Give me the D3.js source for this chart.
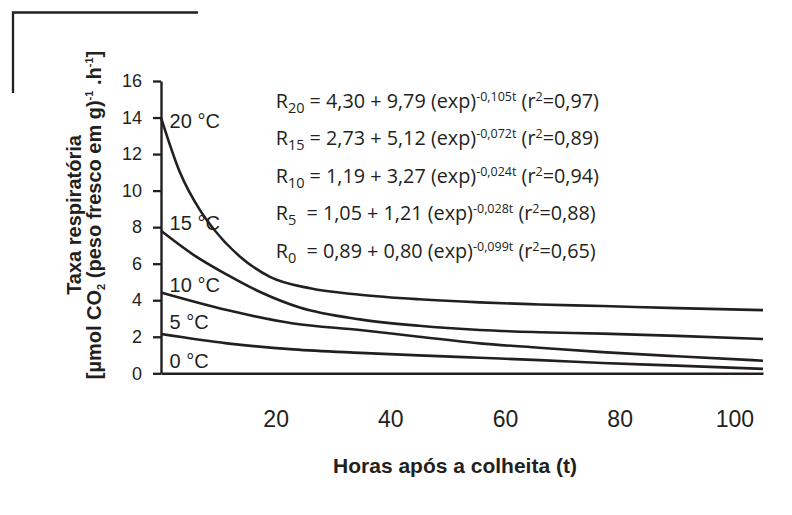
<!DOCTYPE html>
<html>
<head>
<meta charset="utf-8">
<script src="https://cdn.jsdelivr.net/npm/d3@7"></script>
<style>
  body { margin: 0; background: #fff; }
  text { fill: #231f20; }
</style>
</head>
<body>
<div id="chart"></div>
<script>
// Values (hours after harvest -> respiration rate)
var hoursA = [0, 3.3, 6.8, 9.1, 13.8, 19, 26, 34.7, 45, 55.6, 66, 77, 90, 105];
var rate20 = [14.0, 11.0, 8.93, 7.93, 6.38, 5.28, 4.65, 4.3, 4.05, 3.88, 3.77, 3.68, 3.57, 3.46];
var hoursB = [0, 5.6, 11.5, 17.3, 24.2, 34.7, 45, 55.6, 66, 77, 90, 105];
var rate15 = [7.8, 6.5, 5.4, 4.45, 3.6, 2.95, 2.6, 2.37, 2.25, 2.17, 2.05, 1.88];
var hoursC = [0, 11.5, 23.1, 34.7, 45, 55.6, 66, 77, 90, 105];
var rate10 = [4.42, 3.46, 2.73, 2.37, 2.0, 1.64, 1.4, 1.16, 0.93, 0.69];
var rate5 = [2.15, 1.64, 1.31, 1.12, 0.98, 0.85, 0.72, 0.56, 0.42, 0.24];

var curveLabels = ["20 °C", "15 °C", "10 °C", "5 °C", "0 °C"];
var curveLabelY = [13.4, 7.85, 4.45, 2.45, 0.3];

var xTicks = [20, 40, 60, 80, 100];
var yTicks = [0, 2, 4, 6, 8, 10, 12, 14, 16];

// Fitted equations: subscript, constant, coefficient, exponent, r2
var eqSub = ["20", "15", "10", "5", "0"];
var eqA = ["4,30", "2,73", "1,19", "1,05", "0,89"];
var eqB = ["9,79", "5,12", "3,27", "1,21", "0,80"];
var eqK = ["-0,105t", "-0,072t", "-0,024t", "-0,028t", "-0,099t"];
var eqR2 = ["0,97", "0,89", "0,94", "0,88", "0,65"];

var W = 792, H = 515;
var ink = "#231f20";
var arial = "'Liberation Sans', Arial, sans-serif";

var svg = d3.select("#chart").append("svg")
    .attr("width", W)
    .attr("height", H);

var x = d3.scaleLinear().domain([0, 105]).range([161, 763]);
var y = d3.scaleLinear().domain([0, 16]).range([373.3, 81]);

// decorative frame corner at top-left
svg.append("path")
    .attr("d", "M198,12.5H13V93")
    .attr("fill", "none")
    .attr("stroke", ink)
    .attr("stroke-width", 2.3);

// Y axis
var yAxis = svg.append("g")
    .attr("transform", "translate(" + x(0) + ",0)")
    .call(d3.axisLeft(y).tickValues(yTicks).tickSize(8).tickSizeOuter(0).tickPadding(11));
yAxis.select(".domain").attr("stroke", ink).attr("stroke-width", 2.4);
yAxis.selectAll(".tick line").attr("stroke", ink).attr("stroke-width", 2.3);
yAxis.selectAll(".tick text")
    .style("font-family", arial)
    .style("font-size", "18px")
    .attr("fill", ink);

// X axis (labels only, no tick marks)
var xAxis = svg.append("g")
    .attr("transform", "translate(0," + y(0) + ")")
    .call(d3.axisBottom(x).tickValues(xTicks).tickSize(0).tickSizeOuter(0).tickPadding(37));
xAxis.select(".domain").attr("stroke", ink).attr("stroke-width", 2.6);
xAxis.selectAll(".tick text")
    .style("font-family", arial)
    .style("font-size", "23px")
    .attr("fill", ink);

// curves
var line = d3.line()
    .x(function(d) { return x(d[0]); })
    .y(function(d) { return y(d[1]); })
    .curve(d3.curveMonotoneX);

var series = [
    d3.zip(hoursA, rate20),
    d3.zip(hoursB, rate15),
    d3.zip(hoursC, rate10),
    d3.zip(hoursC, rate5)
];

series.forEach(function(s) {
    svg.append("path")
        .datum(s)
        .attr("d", line)
        .attr("fill", "none")
        .attr("stroke", ink)
        .attr("stroke-width", 2.6);
});

// temperature labels next to the curves
svg.selectAll(".clabel")
    .data(curveLabels)
    .enter().append("text")
    .attr("class", "clabel")
    .attr("x", x(1.5))
    .attr("y", function(d, i) { return y(curveLabelY[i]); })
    .style("font-family", arial)
    .style("font-size", "20px")
    .text(function(d) { return d; });

// equations
var eqFont = "'Open Sans', 'Noto Sans', sans-serif";
eqSub.forEach(function(sub, i) {
    var t = svg.append("text")
        .attr("x", x(20))
        .attr("y", 107.5 + i * 37.6)
        .attr("xml:space", "preserve")
        .style("font-family", eqFont)
        .style("font-size", "19.8px");
    t.append("tspan").text("R");
    t.append("tspan").attr("dy", 5).style("font-size", "14.5px").text(sub);
    t.append("tspan").attr("dy", -5).text((sub.length === 1 ? "  = " : " = ") + eqA[i] + " + " + eqB[i] + " (exp)");
    t.append("tspan").attr("dy", -7).style("font-size", "12.5px").text(eqK[i]);
    t.append("tspan").attr("dy", 7).text(" (r");
    t.append("tspan").attr("dy", -7).style("font-size", "12.5px").text("2");
    t.append("tspan").attr("dy", 7).text("=" + eqR2[i] + ")");
});

// axis titles
svg.append("text")
    .attr("x", 455)
    .attr("y", 473)
    .attr("text-anchor", "middle")
    .style("font-family", arial)
    .style("font-weight", "bold")
    .style("font-size", "21px")
    .text("Horas após a colheita (t)");

svg.append("text")
    .attr("transform", "translate(81,215) rotate(-90)")
    .attr("text-anchor", "middle")
    .style("font-family", arial)
    .style("font-weight", "bold")
    .style("font-size", "20px")
    .text("Taxa respiratória");

var yt2 = svg.append("text")
    .attr("transform", "translate(101,215) rotate(-90)")
    .attr("text-anchor", "middle")
    .style("font-family", arial)
    .style("font-weight", "bold")
    .style("font-size", "20px");
yt2.append("tspan").text("[µmol CO");
yt2.append("tspan").attr("dy", 4).style("font-size", "11px").text("2");
yt2.append("tspan").attr("dy", -4).text(" (peso fresco em g)");
yt2.append("tspan").attr("dy", -8).style("font-size", "11px").text("-1");
yt2.append("tspan").attr("dy", 8).text(" .h");
yt2.append("tspan").attr("dy", -8).style("font-size", "11px").text("-1");
yt2.append("tspan").attr("dy", 8).text("]");
</script>
</body>
</html>
